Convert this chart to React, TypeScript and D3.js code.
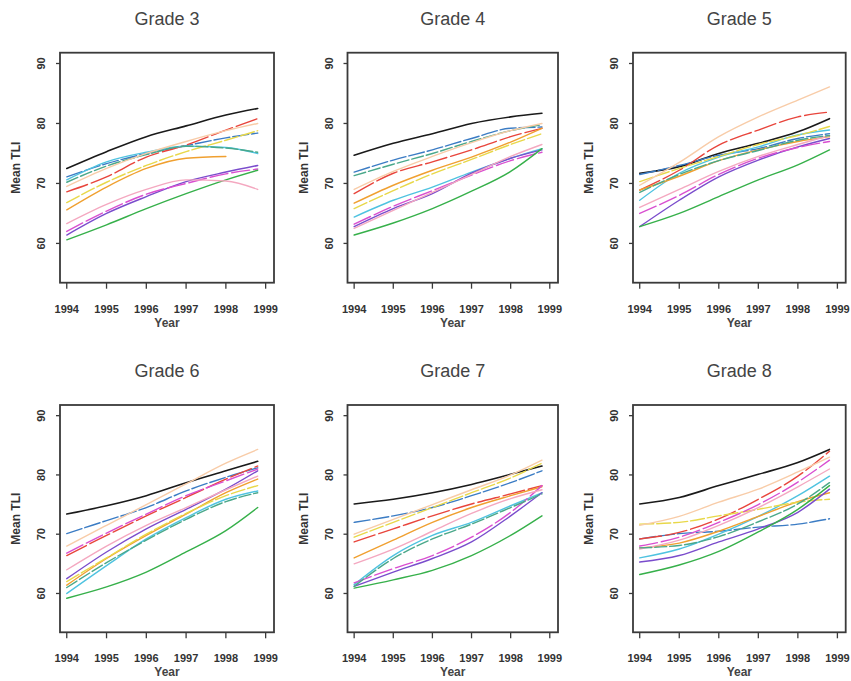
import React, { useEffect, useRef } from 'react';
import * as d3 from 'd3';

// survey years (the smoothed curves stop just short of 1999)
const years = [1994, 1995, 1996, 1997, 1998, 1998.8];
const xTicks = [1994, 1995, 1996, 1997, 1998, 1999];
const yTicks = [60, 70, 80, 90];
const grades = ['Grade 3', 'Grade 4', 'Grade 5', 'Grade 6', 'Grade 7', 'Grade 8'];
const groups = [
  'Group 1', 'Group 2', 'Group 3', 'Group 4', 'Group 5', 'Group 6',
  'Group 7', 'Group 8', 'Group 9', 'Group 10', 'Group 11', 'Group 12',
];

// Mean TLI per group, one row per group, in the order of `groups`
const grade3 = [
  [72.5, 75.3, 77.8, 79.6, 81.4, 82.5],
  [71.1, 73.3, 75.0, 76.3, 77.6, 78.4],
  [68.6, 71.1, 74.4, 76.4, 78.9, 80.8],
  [70.6, 73.6, 75.2, 76.2, 76.0, 75.0],
  [65.6, 69.4, 72.5, 74.2, 74.5, null],
  [66.8, 70.2, 73.0, 75.3, 77.2, 78.8],
  [61.4, 65.0, 67.8, 70.3, 71.9, 73.0],
  [62.0, 65.4, 68.2, 70.0, 71.6, 72.4],
  [60.6, 63.1, 65.8, 68.3, 70.6, 72.2],
  [63.3, 66.5, 69.0, 70.6, 70.4, 69.0],
  [70.2, 72.9, 74.8, 76.2, 75.9, 75.2],
  [69.5, 72.5, 75.0, 77.0, 78.8, 80.0],
];
const grade4 = [
  [74.7, 76.7, 78.3, 80.0, 81.1, 81.7],
  [71.9, 73.9, 75.6, 77.5, 79.2, 79.4],
  [68.3, 71.7, 73.6, 75.6, 77.8, 79.2],
  [64.4, 67.2, 69.4, 71.9, 74.2, 75.8],
  [66.7, 69.7, 72.2, 74.4, 76.9, 79.2],
  [65.8, 68.8, 71.6, 74.0, 76.5, 78.3],
  [62.8, 65.8, 68.3, 71.7, 74.2, 75.6],
  [63.2, 66.2, 68.8, 71.4, 73.8, 75.2],
  [61.4, 63.4, 65.8, 68.7, 72.0, 75.8],
  [62.5, 65.5, 68.5, 71.5, 74.5, 76.5],
  [71.3, 73.2, 75.0, 77.0, 78.8, 79.8],
  [69.0, 72.0, 74.5, 76.8, 78.8, 80.0],
];
const grade5 = [
  [71.7, 72.8, 75.0, 76.7, 78.6, 80.8],
  [71.5, 73.0, 74.7, 75.8, 77.5, 78.3],
  [68.9, 72.2, 76.4, 78.9, 81.1, 81.9],
  [67.2, 71.7, 74.4, 76.1, 78.1, 78.9],
  [68.9, 71.2, 73.8, 75.6, 77.0, 77.8],
  [70.3, 72.5, 74.5, 76.5, 78.0, 79.5],
  [62.8, 67.2, 71.1, 73.9, 76.1, 77.5],
  [65.0, 68.0, 71.5, 74.2, 76.0, 77.0],
  [62.8, 65.0, 67.8, 70.6, 73.1, 75.6],
  [66.0, 69.0, 72.0, 74.5, 76.5, 78.0],
  [68.5, 71.5, 73.8, 75.5, 77.2, 78.0],
  [69.7, 73.5, 77.8, 81.1, 83.9, 86.1],
];
const grade6 = [
  [73.4, 74.8, 76.5, 78.7, 80.7, 82.3],
  [70.1, 72.3, 74.5, 77.3, 79.6, 81.2],
  [66.4, 69.8, 73.1, 76.2, 79.3, 81.5],
  [60.0, 64.7, 69.2, 72.8, 75.9, 77.3],
  [61.4, 65.9, 69.8, 73.4, 77.0, 79.3],
  [62.0, 66.0, 70.0, 73.5, 76.5, 78.2],
  [62.5, 67.0, 70.9, 74.2, 77.6, 80.7],
  [66.8, 70.2, 73.4, 76.5, 79.0, 81.0],
  [59.2, 61.1, 63.6, 67.0, 70.6, 74.5],
  [64.0, 68.0, 71.5, 74.5, 77.5, 79.8],
  [61.0, 65.2, 69.0, 72.5, 75.5, 77.0],
  [68.0, 71.5, 75.0, 78.5, 82.0, 84.3],
];
const grade7 = [
  [75.1, 75.9, 77.0, 78.4, 80.1, 81.5],
  [72.0, 73.1, 74.5, 76.5, 78.7, 80.7],
  [68.7, 70.9, 73.1, 75.1, 76.8, 78.2],
  [61.5, 66.4, 69.8, 72.0, 74.8, 77.0],
  [66.0, 69.0, 72.0, 74.5, 76.5, 78.0],
  [69.5, 72.0, 74.5, 77.0, 79.5, 82.0],
  [61.2, 63.6, 65.9, 68.7, 73.1, 77.0],
  [61.8, 64.2, 66.4, 69.5, 73.7, 78.2],
  [60.9, 62.3, 63.9, 66.4, 69.8, 73.1],
  [65.0, 67.5, 70.5, 73.5, 76.0, 77.5],
  [61.2, 65.9, 69.2, 71.7, 74.5, 76.8],
  [70.0, 72.5, 75.0, 77.5, 80.0, 82.5],
];
const grade8 = [
  [75.1, 76.2, 78.2, 80.1, 82.1, 84.3],
  [69.2, 70.1, 70.5, 71.2, 71.7, 72.6],
  [69.2, 70.3, 72.6, 75.9, 79.8, 84.0],
  [66.0, 67.5, 70.0, 73.0, 76.5, 79.8],
  [67.7, 68.5, 70.5, 73.0, 75.5, 77.0],
  [71.7, 72.0, 73.1, 74.2, 75.4, 75.9],
  [65.3, 66.4, 68.7, 70.9, 73.7, 77.6],
  [68.0, 69.5, 72.0, 75.0, 78.8, 82.5],
  [63.2, 64.8, 67.1, 70.4, 74.2, 78.2],
  [67.5, 69.0, 71.5, 74.5, 78.0, 81.0],
  [67.7, 68.1, 69.6, 72.1, 75.1, 78.7],
  [71.5, 73.0, 75.4, 77.6, 80.5, 83.0],
];
const gradeValues = [grade3, grade4, grade5, grade6, grade7, grade8];

const colors = [
  '#1a1a1a', '#3b7cc4', '#e8453c', '#4fc3e0', '#f0a030', '#e8d84a',
  '#7a4ccc', '#d94fd0', '#36b04a', '#f4a8c0', '#4aa88a', '#f8cca8',
];
const dashes = [null, '16,3', '22,4', null, null, '14,3', null, '18,4', null, null, '12,3', null];

const FONT = '"Liberation Sans", Arial, sans-serif';

export default function App() {
  const ref = useRef(null);

  useEffect(() => {
    const svg = d3.select(ref.current);
    svg.selectAll('*').remove();

    const colLeft = [60, 347.5, 633];
    const colWidth = [214, 210.5, 212.7];
    const rowTop = [52.7, 405];
    const rowHeight = [230, 227.3];

    grades.forEach((title, gi) => {
      const c = gi % 3;
      const r = Math.floor(gi / 3);
      const left = colLeft[c];
      const top = rowTop[r];
      const w = colWidth[c];
      const h = rowHeight[r];

      const x = d3.scaleLinear().domain([1993.83, 1999.21]).range([left, left + w]);
      const y = d3.scaleLinear().domain([53.45, 91.8]).range([top + h, top]);

      const g = svg.append('g');

      g.append('text')
        .attr('x', left + w / 2)
        .attr('y', top - 28)
        .attr('text-anchor', 'middle')
        .attr('font-size', 18)
        .attr('fill', '#444')
        .text(title);

      // curves
      const line = d3
        .line()
        .defined((d) => d[1] != null)
        .curve(d3.curveMonotoneX)
        .x((d) => x(d[0]))
        .y((d) => y(d[1]));

      gradeValues[gi].forEach((vals, si) => {
        const pts = years.map((yr, i) => [yr, vals[i]]);
        g.append('path')
          .datum(pts)
          .attr('fill', 'none')
          .attr('stroke', colors[si])
          .attr('stroke-width', si === 0 ? 1.6 : 1.4)
          .attr('stroke-dasharray', dashes[si])
          .attr('stroke-linecap', 'round')
          .attr('d', line)
          .append('title')
          .text(groups[si]);
      });

      // frame
      g.append('rect')
        .attr('x', left)
        .attr('y', top)
        .attr('width', w)
        .attr('height', h)
        .attr('fill', 'none')
        .attr('stroke', '#3a3a3a')
        .attr('stroke-width', 1.8);

      // x axis
      xTicks.forEach((t) => {
        g.append('line')
          .attr('x1', x(t))
          .attr('x2', x(t))
          .attr('y1', top + h)
          .attr('y2', top + h + 6)
          .attr('stroke', '#3a3a3a')
          .attr('stroke-width', 1.3);
        g.append('text')
          .attr('x', x(t))
          .attr('y', top + h + 30)
          .attr('text-anchor', 'middle')
          .attr('font-size', 11)
          .attr('font-weight', 'bold')
          .attr('fill', '#333')
          .text(t);
      });
      g.append('text')
        .attr('x', left + w / 2)
        .attr('y', top + h + 44)
        .attr('text-anchor', 'middle')
        .attr('font-size', 12)
        .attr('font-weight', 'bold')
        .attr('fill', '#444')
        .text('Year');

      // y axis
      yTicks.forEach((t) => {
        g.append('line')
          .attr('x1', left - 4)
          .attr('x2', left)
          .attr('y1', y(t))
          .attr('y2', y(t))
          .attr('stroke', '#3a3a3a')
          .attr('stroke-width', 1.3);
        g.append('text')
          .attr('transform', `translate(${left - 15},${y(t)}) rotate(-90)`)
          .attr('text-anchor', 'middle')
          .attr('font-size', 11)
          .attr('font-weight', 'bold')
          .attr('fill', '#333')
          .text(t);
      });
      g.append('text')
        .attr('transform', `translate(${left - 40},${top + h / 2}) rotate(-90)`)
        .attr('text-anchor', 'middle')
        .attr('font-size', 12)
        .attr('font-weight', 'bold')
        .attr('fill', '#333')
        .text('Mean TLI');
    });
  }, []);

  return (
    <svg
      ref={ref}
      width={851}
      height={681}
      style={{ position: 'absolute', left: 0, top: 0, background: '#fff', fontFamily: FONT }}
    />
  );
}
